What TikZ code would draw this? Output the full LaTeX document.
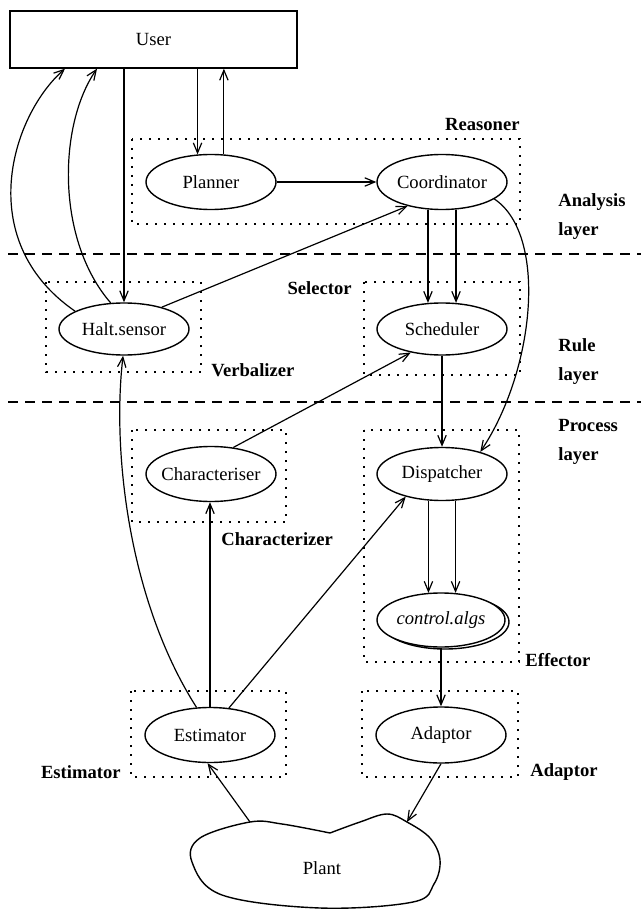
\documentclass[tikz,border=0pt]{standalone}
\usepackage{fontspec}
\setmainfont{Liberation Serif}
\usetikzlibrary{shapes.geometric,arrows.meta}

\begin{document}
\begin{tikzpicture}[x=0.5pt, y=-0.5pt,
		font=\fontsize{9.3}{14.5}\selectfont,
		>={Straight Barb[length=5pt,width=4.2pt]},
		proc/.style={draw, ellipse, line width=0.7pt, fill=white, minimum width=65pt, minimum height=27.5pt, inner xsep=-4pt, inner ysep=0pt},
		grp/.style={line width=0.9pt, dash pattern=on 0.9pt off 3.6pt},
		lbl/.style={font=\fontsize{9.3}{14.5}\selectfont\bfseries, inner sep=0pt},
		arr/.style={->, line width=0.6pt},
		layerline/.style={line width=0.75pt, dash pattern=on 5pt off 3.5pt}]

	\useasboundingbox (0,0) rectangle (641,909);

	% layers
	\draw[layerline] (8,254) -- (641,254);
	\draw[layerline] (8,402) -- (641,402);
	\node[lbl, align=left, anchor=west] at (558,217) {Analysis\\layer};
	\node[lbl, align=left, anchor=west] at (558,362) {Rule\\layer};
	\node[lbl, align=left, anchor=west] at (558,442) {Process\\layer};

	% dotted groups
	\draw[grp] (132,139) rectangle (520,224);
	\draw[grp] (46,282) rectangle (201,372);
	\draw[grp] (364,282) rectangle (520,375);
	\draw[grp] (132,430) rectangle (286,522);
	\draw[grp] (364,430) rectangle (519,662);
	\draw[grp] (131,691) rectangle (286,777);
	\draw[grp] (362,691) rectangle (518,777);
	\node[lbl, anchor=east] at (520,125) {Reasoner};
	\node[lbl, anchor=east] at (352,288) {Selector};
	\node[lbl, anchor=west] at (211,370) {Verbalizer};
	\node[lbl, anchor=west] at (221,539) {Characterizer};
	\node[lbl, anchor=west] at (525,660) {Effector};
	\node[lbl, anchor=east] at (121,772) {Estimator};
	\node[lbl, anchor=west] at (530,772) {Adaptor};

	% nodes
	\node[draw, rectangle, line width=0.7pt, minimum width=143.5pt, minimum height=28.5pt] (user) at (153.5,39.5) {User};
	\node[proc] (planner) at (211,182) {Planner};
	\node[proc] (coord) at (442,182) {Coordinator};
	\node[proc, minimum height=26pt] (halt) at (124,329) {Halt.sensor};
	\node[proc, minimum height=26pt] (sched) at (442,329) {Scheduler};
	\node[proc] (charac) at (211,474) {Characteriser};
	\node[proc, minimum height=26.5pt] (disp) at (442,474) {Dispatcher};
	\node[proc, minimum width=64pt, minimum height=27pt] (algsb) at (445,622) {};
	\node[proc, minimum width=64pt, minimum height=27pt] (algs) at (441,620) {\itshape control.algs};
	\node[proc] (estim) at (210,735) {Estimator};
	\node[proc, minimum height=28pt] (adapt) at (441,735) {Adaptor};

	% plant
	\coordinate (plantL) at (250,822);
	\coordinate (plantR) at (407,822);
	\draw[line width=0.7pt] plot[smooth, tension=0.6] coordinates {(330,833) (360,822) (387,814) (407,822) (430,838) (440,860) (434,884) (413,902) (320,908) (222,895) (192,862) (200,838) (250,822) (282,824) (330,833)};
	\node (plant) at (322,868) {Plant};

	% connectors
	\draw[arr] (halt.north |- user.south) -- (halt.north);
	\draw[arr] (user.south -| planner.116) -- (planner.116);
	\draw[arr] (planner.65) -- (planner.65 |- user.south);
	\draw[arr] (planner.east) -- (coord.west);
	\draw[arr] (halt.160) .. controls (-28,240) and (12,115) .. (user.south -| 65,0);
	\draw[arr] (halt.117) .. controls (56,240) and (58,125) .. (user.south -| 97,0);
	\draw[arr] (halt.30) -- (coord.215);
	\draw[arr] (coord.243) -- (coord.243 |- sched.117);
	\draw[arr] (coord.297) -- (coord.297 |- sched.63);
	\draw[arr] (coord.-18) .. controls (548,235) and (535,370) .. (disp.30);
	\draw[arr] (sched.south) -- (disp.north);
	\draw[arr] (charac.50) -- (sched.217);
	\draw[arr] (disp.243) -- (disp.243 |- algs.116);
	\draw[arr] (disp.297) -- (disp.297 |- algs.64);
	\draw[arr] (algs.south) -- (adapt.north);
	\draw[arr] (estim.north) -- (estim.north |- charac.south);
	\draw[arr] (estim.55) -- (disp.212);
	\draw[arr] (estim.116) .. controls (128,600) and (112,450) .. (halt.268);
	\draw[arr] (plantL) -- (estim.265);
	\draw[arr] (adapt.south) -- (plantR);
\end{tikzpicture}
\end{document}
